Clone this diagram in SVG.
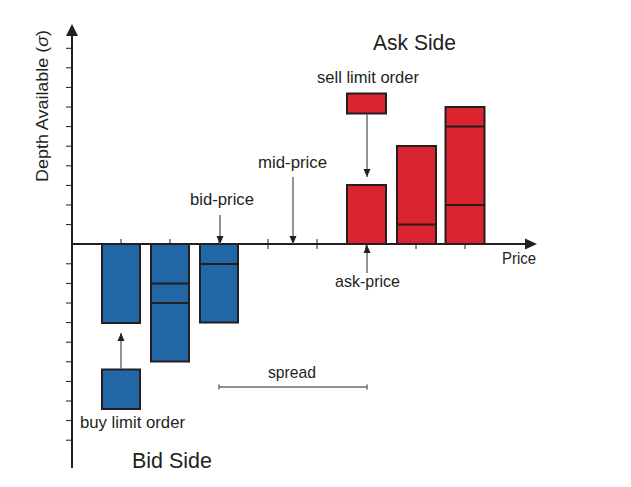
<svg xmlns="http://www.w3.org/2000/svg" width="631" height="487" viewBox="0 0 631 487">
<style>
text{font-family:"Liberation Sans",Arial,sans-serif;fill:#231f20}
.lbl{font-size:17px}
.big{font-size:22px}
.ax{stroke:#231f20;stroke-width:2;fill:none}
.tk{stroke:#231f20;stroke-width:1;fill:none}
.bid{fill:#2166a5;stroke:#231f20;stroke-width:2}
.ask{fill:#da252f;stroke:#231f20;stroke-width:2}
.div{stroke:#231f20;stroke-width:2}
.arr{stroke:#6d6e71;stroke-width:1.5;fill:none;marker-end:url(#ah)}
</style>
<defs>
<marker id="ah" markerUnits="userSpaceOnUse" markerWidth="10" markerHeight="10" viewBox="0 0 10 10" refX="8" refY="5" orient="auto">
<path d="M0,1.5 L8,5 L0,8.5 Z" fill="#231f20"/>
</marker>
</defs>
<rect width="631" height="487" fill="#ffffff"/>
<g id="axes">
<g id="y-ticks" class="tk">
<path d="M66,48.3H72M66,67.8H72M66,87.4H72M66,107H72M66,126.6H72M66,146.2H72M66,165.8H72M66,185.4H72M66,205H72M66,224.6H72"/>
<path d="M66,263.8H72M66,283.4H72M66,303H72M66,322.6H72M66,342.2H72M66,361.8H72M66,381.4H72M66,401H72M66,420.6H72M66,440.2H72"/>
</g>
<g id="x-ticks" class="tk">
<path d="M121,239V249M170,239V249M219,239V249M268,239V249M317,239V249M366,239V249M416,239V249M465,239V249"/>
</g>
<path class="ax" d="M72,468V33"/>
<path d="M66,36 L72,24 L78,36 Z" fill="#231f20"/>
<path class="ax" d="M72,244H527"/>
<path d="M525,238.5 L537,244 L525,249.5 Z" fill="#231f20"/>
<text class="lbl" x="0" y="0" text-anchor="middle" transform="translate(48,106) rotate(-90)" textLength="152" lengthAdjust="spacingAndGlyphs">Depth Available (<tspan font-style="italic">σ</tspan>)</text>
<text class="lbl" x="502" y="264" textLength="34" lengthAdjust="spacingAndGlyphs">Price</text>
</g>
<g id="bid-bar-1"><rect class="bid" x="102" y="244" width="38" height="79"/></g>
<g id="bid-bar-2"><rect class="bid" x="151" y="244" width="38" height="117.5"/><path class="div" d="M151,283.5H189M151,303H189"/></g>
<g id="bid-bar-3"><rect class="bid" x="200" y="244" width="38" height="78.5"/><path class="div" d="M200,264H238"/></g>
<g id="buy-order"><rect class="bid" x="102" y="369.5" width="38" height="39.5"/><text class="lbl" x="80" y="428" textLength="105" lengthAdjust="spacingAndGlyphs">buy limit order</text></g>
<g id="ask-bar-1"><rect class="ask" x="347" y="185" width="39" height="59"/></g>
<g id="ask-bar-2"><rect class="ask" x="397" y="146" width="39" height="98"/><path class="div" d="M397,224.5H436"/></g>
<g id="ask-bar-3"><rect class="ask" x="445.5" y="107" width="39" height="137"/><path class="div" d="M445.5,126.5H484.5M445.5,205H484.5"/></g>
<g id="sell-order"><rect class="ask" x="347" y="93.5" width="39" height="20"/><text class="lbl" x="317" y="83" textLength="102" lengthAdjust="spacingAndGlyphs">sell limit order</text></g>
<g id="connectors">
<path class="arr" d="M121,369V333"/>
<path class="arr" d="M367,114V177"/>
<path class="arr" d="M220,215V244"/>
<path class="arr" d="M293,177V244"/>
<path class="arr" d="M367,273V245"/>
<path d="M219,387H367M219,384.5V389.5M367,384.5V389.5" stroke="#6d6e71" stroke-width="1.5" fill="none"/>
</g>
<g id="labels">
<text class="lbl" x="190" y="205" textLength="64" lengthAdjust="spacingAndGlyphs">bid-price</text>
<text class="lbl" x="258" y="168" textLength="69" lengthAdjust="spacingAndGlyphs">mid-price</text>
<text class="lbl" x="335" y="287" textLength="65" lengthAdjust="spacingAndGlyphs">ask-price</text>
<text class="lbl" x="268" y="378" textLength="48" lengthAdjust="spacingAndGlyphs">spread</text>
<text class="big" x="373" y="50" textLength="83" lengthAdjust="spacingAndGlyphs">Ask Side</text>
<text class="big" x="132" y="468" textLength="80" lengthAdjust="spacingAndGlyphs">Bid Side</text>
</g>
</svg>
